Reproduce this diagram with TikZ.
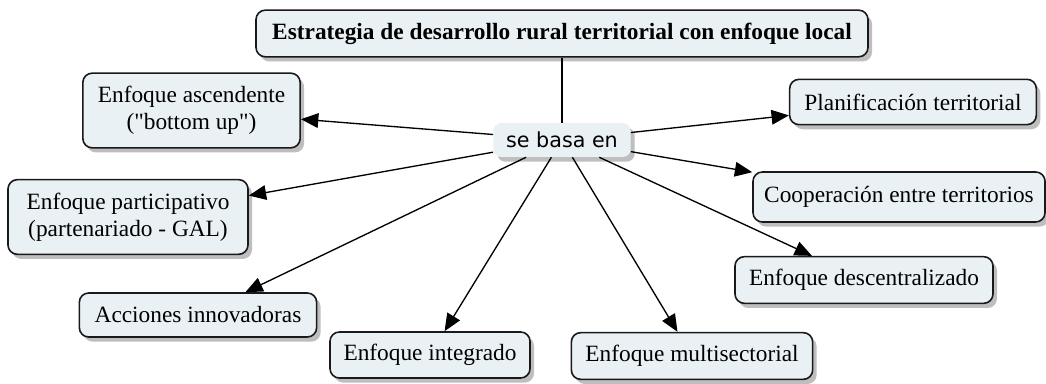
\documentclass[tikz,border=0pt]{standalone}
\usepackage{fontspec}
\setmainfont{Liberation Serif}[Ligatures=TeXOff]
\newfontfamily\basafont{DejaVu Sans}
\usetikzlibrary{arrows.meta,shadows}
\definecolor{boxfill}{RGB}{234,241,245}
\definecolor{shadowgray}{RGB}{190,190,190}
\begin{document}
\begin{tikzpicture}[x=0.75pt,y=0.75pt,
  box/.style={draw=black!90,line width=1.2pt,rounded corners=7pt,fill=boxfill,align=center,
    font=\fontsize{17.5}{20}\selectfont,inner sep=2pt,
    drop shadow={shadow xshift=3pt,shadow yshift=-3.5pt,fill=shadowgray,opacity=1}},
  linkbox/.style={fill=boxfill,rounded corners=6pt,font=\basafont\fontsize{15.5}{18}\selectfont,inner sep=2pt,
    drop shadow={shadow xshift=3pt,shadow yshift=-3.5pt,fill=shadowgray,opacity=1}},
  edge/.style={-{Triangle[length=13pt,width=11pt]},line width=1pt,draw=black}]
\useasboundingbox (0,0) rectangle (1046,-384);
\node[box,font=\fontsize{17.5}{20}\selectfont\bfseries,minimum width=459pt,minimum height=35pt] (title) at (562,-33.5) {Estrategia de desarrollo rural territorial con enfoque local};
\node[linkbox,minimum width=103pt,minimum height=25.5pt] (basa) at (562,-140) {se basa en};
\node[box,minimum width=163pt,minimum height=56pt] (ascend) at (191.5,-110.5) {Enfoque ascendente\\("bottom up")};
\node[box,minimum width=180pt,minimum height=56pt] (particip) at (128,-217) {Enfoque participativo\\(partenariado - GAL)};
\node[box,minimum width=178pt,minimum height=33pt] (acciones) at (198,-315) {Acciones innovadoras};
\node[box,minimum width=150pt,minimum height=34.5pt] (integrado) at (430,-355) {Enfoque integrado};
\node[box,minimum width=181pt,minimum height=35pt] (multisec) at (692,-356) {Enfoque multisectorial};
\node[box,minimum width=193.5pt,minimum height=35pt] (descent) at (864,-280) {Enfoque descentralizado};
\node[box,minimum width=219pt,minimum height=37.5pt] (cooper) at (899,-197) {Cooperación entre territorios};
\node[box,minimum width=185pt,minimum height=34pt] (planif) at (913,-102) {Planificación territorial};
\draw[line width=1pt] (title) -- (basa);
\draw[edge] (basa) -- (ascend);
\draw[edge] (basa) -- (particip);
\draw[edge] (basa) -- (acciones);
\draw[edge] (basa) -- (integrado);
\draw[edge] (basa) -- (multisec);
\draw[edge] (basa) -- (descent);
\draw[edge] (basa) -- (cooper);
\draw[edge] (basa) -- (planif);
\end{tikzpicture}
\end{document}
